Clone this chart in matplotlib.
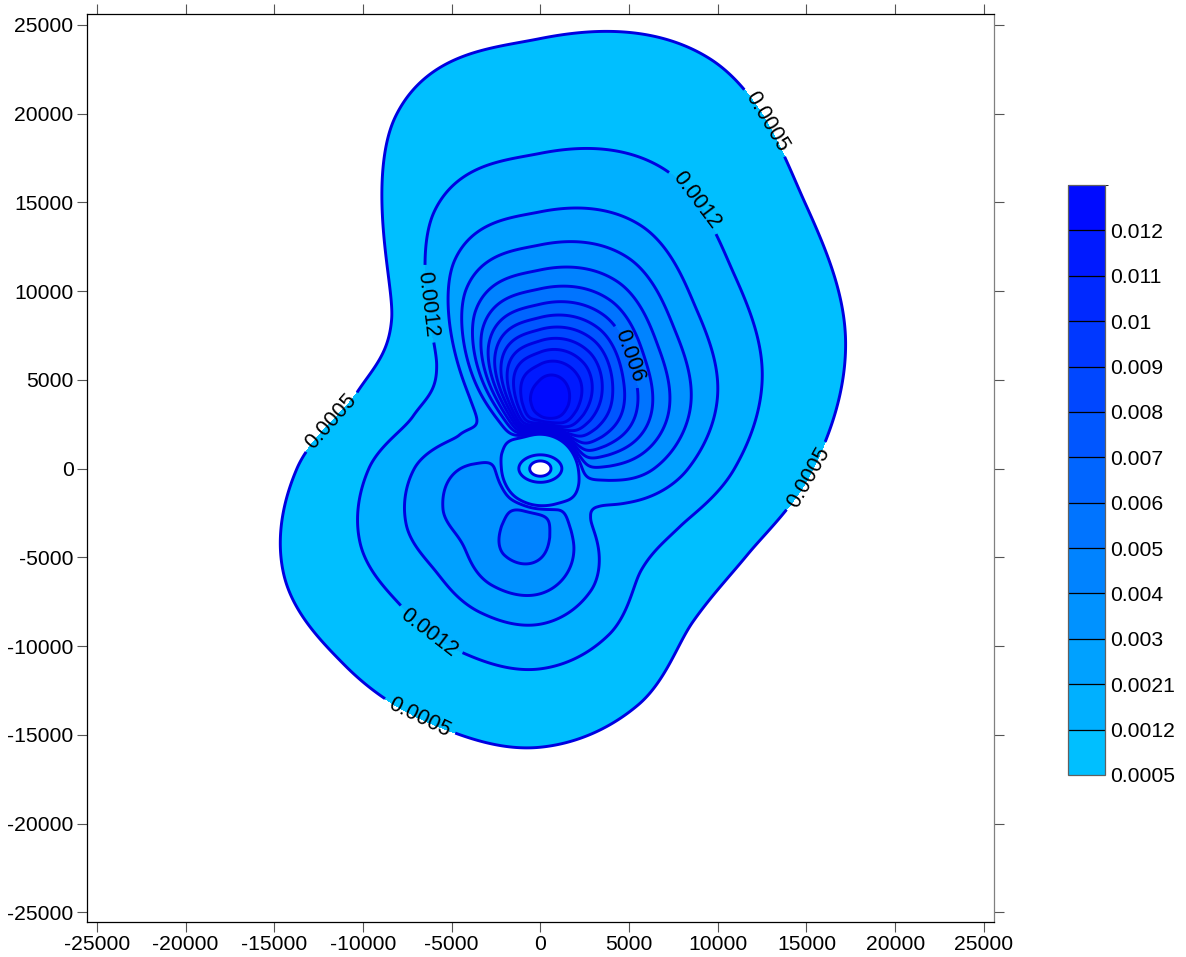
import numpy as np
import matplotlib
matplotlib.use("Agg")
import matplotlib.pyplot as plt
from matplotlib.colors import ListedColormap, BoundaryNorm
from matplotlib.cm import ScalarMappable

plt.rcParams["font.family"] = ["Liberation Sans", "DejaVu Sans"]
plt.rcParams["axes.unicode_minus"] = False

# ---- contour levels ----
levels = [0.0005, 0.0012, 0.0021, 0.003, 0.004, 0.005, 0.006,
          0.007, 0.008, 0.009, 0.01, 0.011, 0.012]
top_level = 0.013

# ---- directional rose (degrees counter-clockwise from east) ----
sector_angle = [0, 22.5, 45, 67.5, 90, 112.5, 135, 157.5,
                180, 202.5, 225, 247.5, 270, 292.5, 315, 337.5]
sector_peak = [0.0037, 0.0063, 0.0090, 0.0120, 0.0125, 0.0090, 0.0024, 0.0022,
               0.0030, 0.0034, 0.0035, 0.0043, 0.0042, 0.0031, 0.0020, 0.0022]
sector_spread = [6000, 6000, 6000, 6500, 6160, 6100, 5200, 5000,
                 5700, 6400, 6300, 5700, 5800, 6000, 6000, 6000]

peak_distance = 3900.0      # distance of maximum ground value from the source
rise_rate = 0.01            # steepness of the rise towards the maximum
tail_power = 1.3            # decay exponent beyond the maximum
near_level = 0.0028         # near-source background
near_inner = (1300.0, 950.0)
near_outer = 2200.0

axis_ticks = list(range(-25000, 25001, 5000))

# label anchors for the annotated contours
label_spots = {
    0.0005: [(12950, 19650), (-11960, 2800), (15380, -640), (-6890, -14170)],
    0.0012: [(8440, 14860), (-6890, 9210), (-6100, -9020)],
    0.006: [(4330, 6125)],
}


def periodic_interp(theta_deg, values):
    """Periodic Catmull-Rom interpolation of sector values."""
    v = np.asarray(values, dtype=float)
    n = len(v)
    t = (np.mod(theta_deg, 360.0)) / (360.0 / n)
    i = np.floor(t).astype(int)
    f = t - i
    p0 = v[(i - 1) % n]
    p1 = v[i % n]
    p2 = v[(i + 1) % n]
    p3 = v[(i + 2) % n]
    return 0.5 * (2 * p1 + (-p0 + p2) * f
                  + (2 * p0 - 5 * p1 + 4 * p2 - p3) * f ** 2
                  + (-p0 + 3 * p1 - 3 * p2 + p3) * f ** 3)


# ---- concentration field ----
lim_x = (-25570, 25570)
lim_y = (-25565, 25600)
gx = np.linspace(lim_x[0], lim_x[1], 1001)
gy = np.linspace(lim_y[0], lim_y[1], 1001)
X, Y = np.meshgrid(gx, gy)
R = np.hypot(X, Y)
TH = np.degrees(np.arctan2(Y, X))

amp = np.exp(periodic_interp(TH, np.log(sector_peak)))
spread = periodic_interp(TH, sector_spread)
Rs = np.maximum(R, 1.0)
rise = np.where(R < peak_distance,
                np.exp(-rise_rate * ((peak_distance / Rs) ** 8 - 1.0)), 1.0)
tail = np.where(R > peak_distance,
                (1.0 + ((R - peak_distance) / spread) ** 2) ** (-tail_power), 1.0)
hole = 1 - np.exp(-((X / near_inner[0]) ** 2 + (Y / near_inner[1]) ** 2))
near = near_level * hole * np.exp(-(R / near_outer) ** 2)
C = amp * rise * tail + near

# ---- colours ----
n_bands = len(levels)
band_colors = [(0.0, (191 - 180 * i / (n_bands - 1)) / 255.0, 1.0) for i in range(n_bands)]
cmap = ListedColormap(band_colors)
bounds = levels + [top_level]
norm = BoundaryNorm(bounds, cmap.N)
line_color = "#0000E0"
line_width = 2.1

# ---- figure ----
fig = plt.figure(figsize=(11.86, 9.57), dpi=100)
ax = fig.add_axes([0.0731, 0.0363, 0.7650, 0.9488])

ax.contourf(X, Y, C, levels=levels + [1.0], colors=band_colors)
plain = [lv for lv in levels if lv not in label_spots]
ax.contour(X, Y, C, levels=plain, colors=line_color, linewidths=line_width)
for lv, spots in label_spots.items():
    cs = ax.contour(X, Y, C, levels=[lv], colors=line_color, linewidths=line_width)
    ax.clabel(cs, fmt="%g", manual=spots, inline=True, fontsize=15.5,
              colors="k", inline_spacing=6)

ax.set_xlim(*lim_x)
ax.set_ylim(*lim_y)
ax.set_xticks(axis_ticks)
ax.set_yticks(axis_ticks)
ax.set_xticklabels([str(t) for t in axis_ticks])
ax.set_yticklabels([str(t) for t in axis_ticks])
ax.tick_params(direction="out", length=7.5, width=0.8, color="#555555",
               labelsize=15.2, top=True, right=True, pad=2)
for side in ("left", "bottom", "top"):
    ax.spines[side].set_color("black")
    ax.spines[side].set_linewidth(0.9)
ax.spines["right"].set_color("#808080")
ax.spines["right"].set_linewidth(0.9)

# ---- colour bar ----
cax = fig.add_axes([0.9003, 0.1902, 0.03145, 0.6165])
sm = ScalarMappable(norm=norm, cmap=cmap)
cb = fig.colorbar(sm, cax=cax, boundaries=bounds, ticks=levels,
                  spacing="uniform", drawedges=True)
cb.ax.set_yticklabels([f"{v:g}" for v in levels])
cb.ax.tick_params(length=0, labelsize=15.2, pad=4)
cb.outline.set_edgecolor("#606060")
cb.outline.set_linewidth(0.9)
cb.dividers.set_color("black")
cb.dividers.set_linewidth(0.9)

fig.savefig("out.png", dpi=100)
